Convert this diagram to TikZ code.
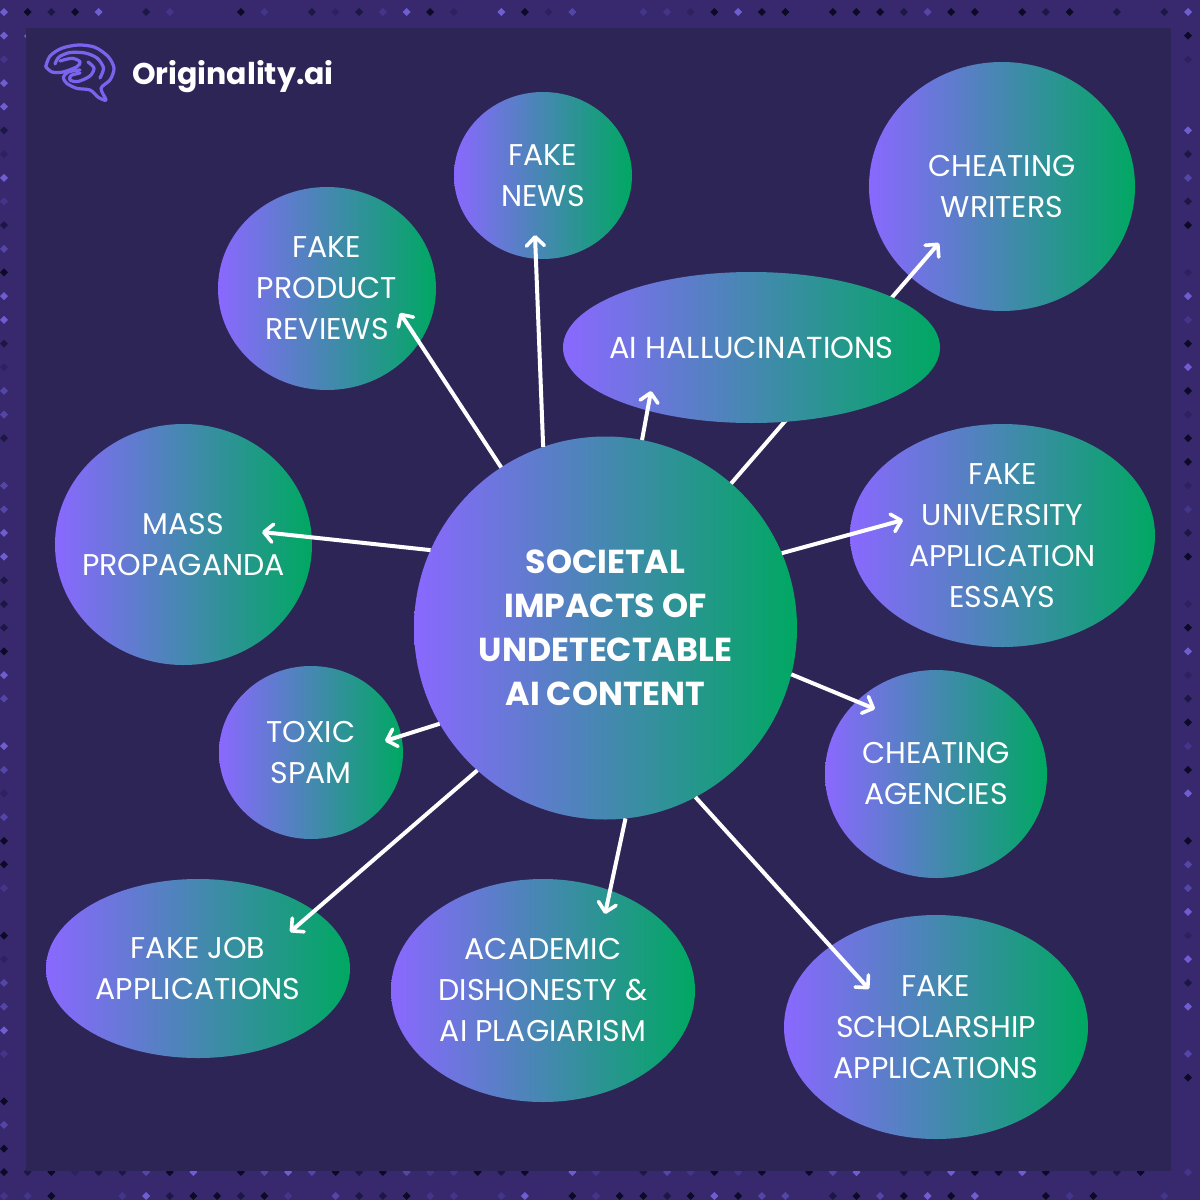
\documentclass[tikz,border=0pt]{standalone}
\usepackage{fontspec}
\setmainfont{Poppins}
\usetikzlibrary{shapes.geometric,positioning,calc,arrows.meta}
\definecolor{framebg}{HTML}{38296E}
\definecolor{panelbg}{HTML}{2E2557}
\definecolor{gradleft}{HTML}{8A68FF}
\definecolor{gradright}{HTML}{00A862}
\definecolor{brainline}{HTML}{7A64EE}
\definecolor{dotK}{HTML}{0C0A26}
\definecolor{dotD}{HTML}{1D1745}
\definecolor{dotd}{HTML}{2C2260}
\definecolor{dotf}{HTML}{43368A}
\definecolor{dotl}{HTML}{5446A8}
\definecolor{dotL}{HTML}{6F5DD2}
\tikzset{
	topic/.style={ellipse, minimum width=#1, inner sep=-50pt, outer sep=0pt, left color=gradleft, right color=gradright, text=white, align=center, font=\fontsize{30}{41}\selectfont},
	hubnode/.style={topic=383pt, minimum height=383pt, font=\fontsize{33.2}{44}\selectfont\bfseries},
	arrow/.style={white, line width=4pt, -{Straight Barb[round,length=9pt,width=18pt,line width=3.6pt]}},
	brain/.style={brainline, line width=3.2pt, line cap=round, line join=round}
}
\begin{document}
\begin{tikzpicture}[x=1pt,y=-1pt]
	\useasboundingbox (0,0) rectangle (1200,1200);
	\fill[framebg] (0,0) rectangle (1200,1200);

	% DOTS
	\foreach \i/\c in {0/L,1/K,2/D,3/K,4/L,6/D,7/f,10/K,11/f,13/D,14/d,15/D,16/f,17/L,18/K,19/d,21/L,22/K,23/d,24/l,27/f,28/f,29/d,30/K,31/L,32/K,33/K,35/K,36/K,37/K,38/D,39/l,40/K,41/K,43/K,44/D,45/K,47/D,49/D,50/L}
		\fill[dot\c] ({4+23.68*\i-4},12) -- ({4+23.68*\i},8) -- ({4+23.68*\i+4},12) -- ({4+23.68*\i},16) -- cycle;
	\foreach \i/\c in {0/K,1/D,2/K,3/d,4/D,5/D,6/l,7/K,8/L,10/K,11/l,12/L,13/l,14/K,15/D,16/K,17/l,18/f,19/f,20/K,21/D,22/K,24/L,25/f,27/D,28/l,29/f,30/K,31/f,32/K,34/K,35/l,36/L,38/D,39/D,40/L,41/K,42/K,43/L,44/K,46/D,47/D,48/K}
		\fill[dot\c] ({4+23.68*\i-4},1172) -- ({4+23.68*\i},1168) -- ({4+23.68*\i+4},1172) -- ({4+23.68*\i},1176) -- cycle;
	\foreach \i/\c in {0/f,1/f,2/K,5/f,6/L,7/D,8/K,9/K,10/D,11/K,12/f,14/l,15/D,16/D,17/K,18/f,19/f,21/f,22/L,24/K,25/f,26/K,27/K,28/D,29/K,30/L,31/K,32/l,33/l,35/D,36/K,37/l,38/K,39/L,40/K,41/L,44/K,45/f,46/K,49/f}
		\fill[dot\c] ({4+23.68*\i-4},1196) -- ({4+23.68*\i},1192) -- ({4+23.68*\i+4},1196) -- ({4+23.68*\i},1200) -- cycle;
	\foreach \i/\c in {1/L,2/f,3/L,4/L,5/D,6/d,7/L,8/f,9/D,10/l,11/K,12/L,13/L,14/D,15/d,16/l,17/l,18/D,20/l,21/l,22/L,23/L,24/D,25/D,26/D,27/K,28/L,29/l,31/L,32/l,33/d,34/l,35/K,36/K,37/f,39/K,40/d,41/l,42/l,43/L,44/f,46/K,47/l,48/K}
		\fill[dot\c] (0,{12+23.68*\i}) -- (4,{12+23.68*\i-4}) -- (8,{12+23.68*\i}) -- (4,{12+23.68*\i+4}) -- cycle;
	\foreach \i/\c in {1/K,2/d,5/L,6/D,7/l,8/D,9/K,11/d,12/L,13/f,14/K,15/L,16/K,17/d,18/K,19/K,20/d,21/f,22/D,23/K,25/d,26/K,27/L,28/d,29/D,30/K,31/f,32/K,33/L,35/K,36/l,37/l,38/L,39/d,40/L,41/D,42/L,44/l,45/K,49/f}
		\fill[dot\c] (1184,{12+23.68*\i}) -- (1188,{12+23.68*\i-4}) -- (1192,{12+23.68*\i}) -- (1188,{12+23.68*\i+4}) -- cycle;
	\fill[dotL] (24,36) -- (28,32) -- (32,36) -- (28,40) -- cycle;

	\fill[panelbg] (26,28) rectangle (1171,1171);

	% LOGO
	\draw[brain] plot[smooth] coordinates {(45.7,66.7) (50,56) (61.7,48.3) (78.3,45) (95,47.3) (108.3,56.7) (114,68.3) (110,80) (101,88.3) (106,100) (98.3,97.3) (90,90) (76.7,88.3) (66.7,83.3) (63.3,77.3) (68.3,72) (80,70)};
	\draw[brain] plot[smooth] coordinates {(45.7,66.7) (52,72) (63,72) (77,66.7) (80,61.7) (72,58.3) (60,61)};
	\draw[brain] plot[smooth] coordinates {(100,78) (103.5,68) (97,58) (85,53) (70,52.5) (59,57) (55,64)};
	\draw[brain] plot[smooth] coordinates {(88,62) (94,68) (90,76) (78,81.5) (70,80) (71,75.5) (80,73)};
	\node[anchor=west, inner sep=0pt, text=white, font=\fontsize{30}{36}\selectfont\bfseries] (logotext) at (132,77) {Originality.ai};

	% TOPICS
	\node[hubnode] (hub) at (605.5,628) {SOCIETAL\\IMPACTS OF\\UNDETECTABLE\\AI CONTENT};
	\node[topic=178pt, minimum height=167pt] (fakenews) at (543,175.5) {FAKE\\NEWS};
	\node[topic=218pt, minimum height=203pt] (fakereviews) at (327,288.5) {FAKE\\PRODUCT\\REVIEWS};
	\node[topic=266pt, minimum height=249pt] (writers) at (1002,186.5) {CHEATING\\WRITERS};
	\node[topic=257pt, minimum height=241pt] (propaganda) at (183.5,544.5) {MASS\\PROPAGANDA};
	\node[topic=305pt, minimum height=223pt] (university) at (1002.5,535.5) {FAKE\\UNIVERSITY\\APPLICATION\\ESSAYS};
	\node[topic=184pt, minimum height=173pt] (toxicspam) at (311,752.5) {TOXIC\\SPAM};
	\node[topic=222pt, minimum height=208pt] (agencies) at (936,774) {CHEATING\\AGENCIES};
	\node[topic=304pt, minimum height=179pt] (fakejob) at (198,968.5) {FAKE JOB\\APPLICATIONS};
	\node[topic=304pt, minimum height=223pt] (academic) at (543,990.5) {ACADEMIC\\DISHONESTY \&\\AI PLAGIARISM};
	\node[topic=304pt, minimum height=224pt] (scholarship) at (936,1027) {FAKE\\SCHOLARSHIP\\APPLICATIONS};

	% ARROWS
	\coordinate (writerstip) at (939,243);
	\draw[arrow] (hub.49) -- (writerstip);

	\node[topic=377pt, minimum height=151pt, font=\fontsize{30.4}{41}\selectfont] (hallucinations) at (751.5,347.5) {AI HALLUCINATIONS};

	\coordinate (hallutip) at (651,391);
	\coordinate (newstip) at (535,235);
	\coordinate (reviewstip) at (400,313);
	\coordinate (propagandatip) at (262,532);
	\coordinate (universitytip) at (903,520);
	\coordinate (toxictip) at (385,741);
	\coordinate (agenciestip) at (875,709);
	\coordinate (jobtip) at (290,932);
	\coordinate (academictip) at (605,914);
	\coordinate (scholarshiptip) at (869,989);
	\draw[arrow] (hub.79.5) -- (hallutip);
	\draw[arrow] (hub.109.6) -- (newstip);
	\draw[arrow] (hub.123) -- (reviewstip);
	\draw[arrow] (hub.156.4) -- (propagandatip);
	\draw[arrow] (hub.23.5) -- (universitytip);
	\draw[arrow] (hub.210) -- (toxictip);
	\draw[arrow] (hub.346.2) -- (agenciestip);
	\draw[arrow] (hub.228.6) -- (jobtip);
	\draw[arrow] (hub.276.3) -- (academictip);
	\draw[arrow] (hub.298.6) -- (scholarshiptip);
\end{tikzpicture}
\end{document}
